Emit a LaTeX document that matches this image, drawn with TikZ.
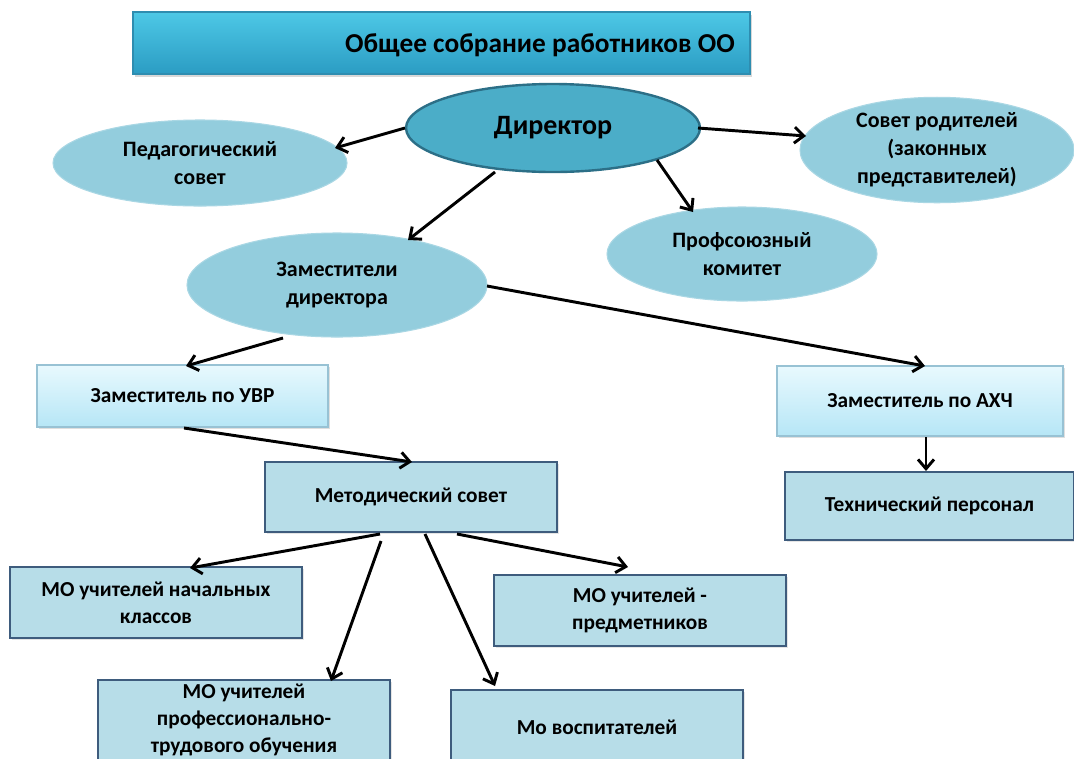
\documentclass[tikz,border=0pt]{standalone}
\usepackage{fontspec}
\setmainfont{Carlito}
\usetikzlibrary{arrows.meta,shapes.geometric,shadows,calc}
\definecolor{barTop}{HTML}{4DC8E6}
\definecolor{barBot}{HTML}{2B9CC3}
\definecolor{barLine}{HTML}{2E8DB0}
\definecolor{dirFill}{HTML}{4BADC8}
\definecolor{dirLine}{HTML}{2C6F87}
\definecolor{ellFill}{HTML}{93CDDD}
\definecolor{ellLine}{HTML}{A9D7E4}
\definecolor{lbTop}{HTML}{E8F9FE}
\definecolor{lbBot}{HTML}{B6E6F6}
\definecolor{lbLine}{HTML}{98C2D4}
\definecolor{dbFill}{HTML}{B7DDE8}
\definecolor{dbLine}{HTML}{3E5C7D}
\newcommand\ftitle{\fontsize{20.5}{24}\selectfont\bfseries}
\newcommand\fdir{\fontsize{21}{25}\selectfont\bfseries}
\newcommand\fell{\fontsize{16.5}{21}\selectfont\bfseries}
\newcommand\fbx{\fontsize{16}{20}\selectfont\bfseries}
\begin{document}
\begin{tikzpicture}[x=0.75pt,y=-0.75pt,
  ell/.style={ellipse, draw=ellLine, fill=ellFill, line width=0.8pt, inner sep=0pt, align=center, font=\fell},
  lightbox/.style={rectangle, draw=lbLine, top color=lbTop, bottom color=lbBot, line width=0.8pt, inner sep=0pt, align=center, font=\fbx, drop shadow={shadow xshift=1.5pt, shadow yshift=-1.5pt, opacity=0.25}},
  darkbox/.style={rectangle, draw=dbLine, fill=dbFill, line width=2.2pt, inner sep=0pt, align=center, font=\fbx, drop shadow={shadow xshift=1.5pt, shadow yshift=-1.5pt, opacity=0.2}},
  arr/.style={-{Straight Barb[length=7pt,width=12pt]}, line width=2.2pt, black}]
\useasboundingbox (0,0) rectangle (1074,758);
\fill[white] (0,0) rectangle (1074,758);
% top bar
\node[rectangle, draw=barLine, top color=barTop, bottom color=barBot, line width=0.8pt, minimum width=462.75pt, minimum height=46.5pt, inner sep=0pt, drop shadow={shadow xshift=1.5pt, shadow yshift=-2pt, opacity=0.3}] (top) at (441.5,43) {};
\node[font=\ftitle] (toptext) at (540,45) {Общее собрание работников ОО};
% ellipses
\node[ellipse, draw=dirLine, fill=dirFill, line width=1.8pt, minimum width=220.5pt, minimum height=66pt, inner sep=0pt, font=\fdir] (dir) at (553,128) {Директор};
\node[ell, minimum width=220.5pt, minimum height=64.5pt] (ped) at (200,163) {Педагогический\\совет};
\node[ell, minimum width=205.5pt, minimum height=72pt] (rod) at (937,150) {Совет родителей\\(законных\\представителей)};
\node[ell, minimum width=202.5pt, minimum height=70.5pt] (prof) at (742,254) {Профсоюзный\\комитет};
\node[ell, minimum width=225pt, minimum height=78pt] (zam) at (337,285) {\raisebox{-2pt}{\begin{tabular}{@{}c@{}}Заместители\\директора\end{tabular}}};
% boxes
\node[lightbox, minimum width=218.25pt, minimum height=46.5pt] (uvr) at (182.5,396) {Заместитель по УВР};
\node[lightbox, minimum width=214.5pt, minimum height=52.5pt] (ahc) at (920,401) {Заместитель по АХЧ};
\node[darkbox, minimum width=216.75pt, minimum height=51pt] (tech) at (929.5,506) {Технический персонал};
\node[darkbox, minimum width=219pt, minimum height=52.5pt] (met) at (411,497) {Методический совет};
\node[darkbox, minimum width=219pt, minimum height=53.25pt] (mo1) at (156,602.5) {МО учителей начальных\\классов};
\node[darkbox, minimum width=219pt, minimum height=53.25pt] (mo2) at (640,610.5) {МО учителей -\\предметников};
\node[darkbox, minimum width=219pt, minimum height=60pt] (mo3) at (244,720) {МО учителей\\профессионально-\\трудового обучения};
\node[darkbox, minimum width=219pt, minimum height=55.5pt] (mo4) at (597,727) {Мо воспитателей};
% connectors
\draw[arr] ($(dir)+(-148,0)$) -- ($(ped)+(135,-15)$);
\draw[arr] ($(dir)+(145,0)$) -- ($(rod)+(-131,-14)$);
\draw[arr] ($(dir)+(104,32)$) -- ($(prof)+(-49,-42)$);
\draw[arr] ($(dir)+(-58,44)$) -- ($(zam)+(71,-45)$);
\draw[arr] ($(zam)+(-54,53)$) -- ($(uvr)+(3.5,-30)$);
\draw[arr] ($(zam)+(150,1)$) -- ($(ahc)+(5,-35)$);
\draw[arr] ($(uvr)+(1.5,32)$) -- ($(met)+(1,-35)$);
\draw[arr] ($(ahc)+(6,36)$) -- ($(tech)+(-3.5,-35)$);
\draw[arr] ($(met)+(-31,37)$) -- ($(mo1)+(34,-34.5)$);
\draw[arr] ($(met)+(-30,44)$) -- ($(mo3)+(87,-39)$);
\draw[arr] ($(met)+(14,37)$) -- ($(mo4)+(-102,-41)$);
\draw[arr] ($(met)+(46,37)$) -- ($(mo2)+(-12,-43.5)$);
\end{tikzpicture}
\end{document}
